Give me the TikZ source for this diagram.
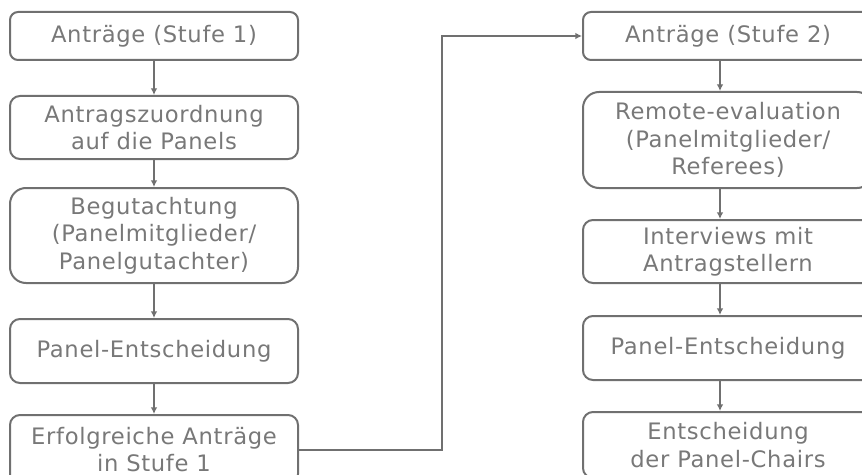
\documentclass[tikz,border=0pt]{standalone}
\usepackage{fontspec}
\setmainfont[LetterSpace=3]{DejaVu Sans}
\usepackage{xcolor}
\usepackage{tikz}
\usetikzlibrary{arrows.meta,positioning,calc}

\definecolor{linegray}{RGB}{112,112,112}
\definecolor{textgray}{RGB}{120,120,120}

\tikzset{
  stage/.style={draw=linegray, line width=1.5pt, rounded corners=#1, inner sep=0pt,
    align=center, text=textgray, font=\fontsize{17}{20.5}\selectfont},
  stage/.default=6pt,
  flow/.style={draw=linegray, line width=1.5pt, -{Latex[length=5pt,width=5pt]}}
}

\begin{document}
\begin{tikzpicture}[x=0.75pt, y=-0.75pt]
\useasboundingbox (0,0) rectangle (862,474);
\clip (0,0) rectangle (862,474);

% Stufe 1 - linke Spalte
\node[stage, minimum width=216pt, minimum height=36pt] (l1) at (154, 36) {Anträge (Stufe 1)};
\node[stage=7.5pt, minimum width=216pt, minimum height=47.25pt] (l2) at (154, 127.5) {Antragszuordnung\\auf die Panels};
\node[stage=12pt, minimum width=216pt, minimum height=71.25pt] (l3) at (154, 235.5) {Begutachtung\\(Panelmitglieder/\\Panelgutachter)};
\node[stage=7.5pt, minimum width=216pt, minimum height=48pt] (l4) at (154, 351) {Panel-Entscheidung};
\node[stage=7.5pt, minimum width=216pt, minimum height=51.75pt] (l5) at (154, 449.5) {Erfolgreiche Anträge\\in Stufe 1};

% Stufe 2 - rechte Spalte
\node[stage, minimum width=217.5pt, minimum height=36pt] (r1) at (728, 36) {Anträge (Stufe 2)};
\node[stage=12pt, minimum width=217.5pt, minimum height=72pt] (r2) at (728, 140) {Remote-evaluation\\(Panelmitglieder/\\Referees)};
\node[stage=7.5pt, minimum width=217.5pt, minimum height=47.25pt] (r3) at (728, 251.5) {Interviews mit\\Antragstellern};
\node[stage=7.5pt, minimum width=217.5pt, minimum height=48pt] (r4) at (728, 348) {Panel-Entscheidung};
\node[stage=7.5pt, minimum width=217.5pt, minimum height=49.5pt] (r5) at (728, 445) {Entscheidung\\der Panel-Chairs};

% Hilfspunkte fuer Pfeile
\coordinate (rx) at (720, 0);
\coordinate (jx) at (442, 0);

% Pfeile links
\foreach \i/\j in {1/2,2/3,3/4,4/5}
    \draw[flow] (l\i.south) -- (l\j.north);

% Pfeile rechts
\foreach \i/\j in {1/2,2/3,3/4,4/5}
    \draw[flow] (r\i.south -| rx) -- (r\j.north -| rx);

% Uebergang Stufe 1 -> Stufe 2
\draw[flow] (l5.east) -- (l5.east -| jx) |- (r1.west);
\end{tikzpicture}
\end{document}
